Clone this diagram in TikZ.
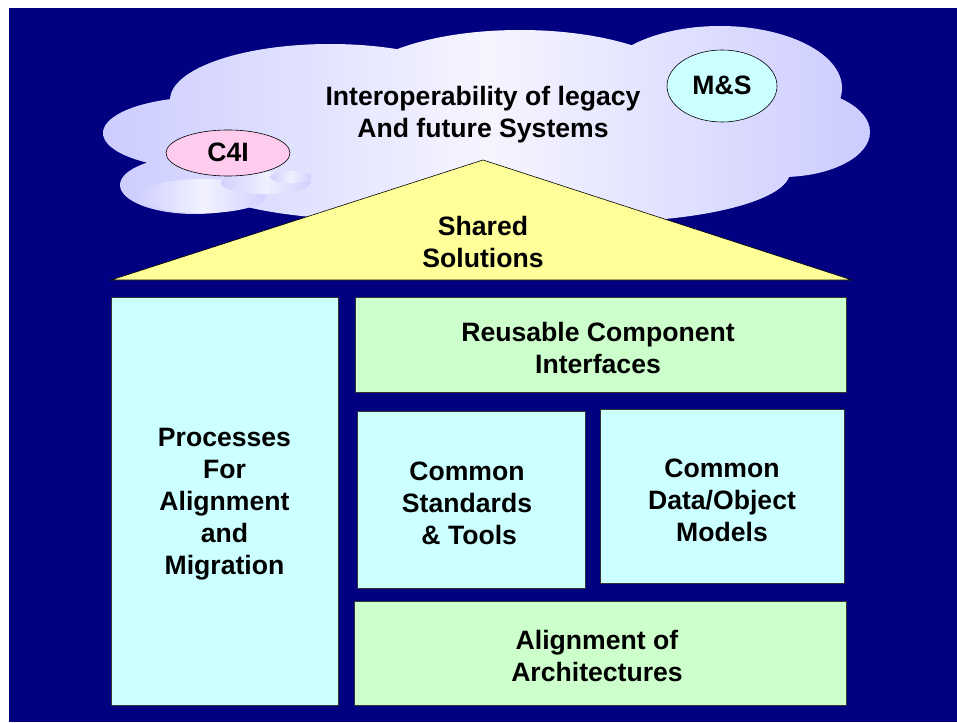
\documentclass[tikz,border=0pt]{standalone}
\usepackage{fontspec}
\setmainfont{Liberation Sans}
\usetikzlibrary{shapes.geometric}
\begin{document}
\begin{tikzpicture}[x=1pt,y=-1pt,
  lbl/.style={font=\bfseries\fontsize{26.6}{32}\selectfont, align=center, text=black},
  boxc/.style={draw=black!80, line width=0.6pt, fill=cyanbox},
  boxg/.style={draw=black!80, line width=0.6pt, fill=greenbox},
  oval/.style={draw=black, line width=0.6pt, ellipse}]
\definecolor{navy}{RGB}{0,0,128}
\definecolor{cyanbox}{RGB}{204,255,255}
\definecolor{greenbox}{RGB}{204,255,204}
\definecolor{yellowtri}{RGB}{255,255,153}
\definecolor{cloudc}{RGB}{204,204,255}
\definecolor{pinkov}{RGB}{255,204,238}
\definecolor{cyanov}{RGB}{204,255,255}
\useasboundingbox (0,0) rectangle (957,722);
\fill[white] (0,0) rectangle (957,722);
\fill[navy] (9,8) rectangle (957,722);
% cloud
\shade[left color=cloudc, right color=cloudc, middle color=cloudc!20!white]
  (330,100) ellipse [x radius=160, y radius=56]
  (520,92) ellipse [x radius=170, y radius=62]
  (720,88) ellipse [x radius=122, y radius=62]
  (782,132) ellipse [x radius=88, y radius=45]
  (205,133) ellipse [x radius=102, y radius=36]
  (195,185) ellipse [x radius=75, y radius=29]
  (600,172) ellipse [x radius=190, y radius=50]
  (380,180) ellipse [x radius=180, y radius=40];
\shade[left color=cloudc!90!white, right color=cloudc!90!white, middle color=cloudc!25!white]
  (203,196) ellipse [x radius=63, y radius=17];
\shade[left color=cloudc!90!white, right color=cloudc!90!white, middle color=cloudc!30!white]
  (266,183) ellipse [x radius=45, y radius=11];
\shade[left color=cloudc!90!white, right color=cloudc!90!white, middle color=cloudc!30!white]
  (291,177) ellipse [x radius=21, y radius=6];
\node[lbl] (cloudtxt) at (483,115) {Interoperability of legacy\\And future Systems};
\node[oval, fill=pinkov, minimum width=124, minimum height=46, inner sep=0] (c4i) at (228,153) {};
\node[lbl] at ([yshift=1]c4i.center) {C4I};
\node[oval, fill=cyanov, minimum width=110, minimum height=72, inner sep=0] (ms) at (722,86) {};
\node[lbl] at ([yshift=1]ms.center) {M\&S};
% triangle
\draw[fill=yellowtri, line width=0.6pt] (111,280) -- (483,160) -- (852,280) -- cycle;
\node[lbl] (shared) at (483,242) {Shared\\Solutions};
% boxes
\draw[boxc] (111,297) rectangle (338,705);
\node[lbl] (proc) at (224.5,504) {Processes\\For\\Alignment\\and\\Migration};
\draw[boxg] (355,297) rectangle (846,392);
\node[lbl] (reuse) at (598,348) {Reusable Component\\Interfaces};
\draw[boxc] (357,411) rectangle (585,588);
\node[lbl] (std) at (467,503) {Common\\Standards\\\,\& Tools};
\draw[boxc] (600,409) rectangle (844,583);
\node[lbl] (data) at (722,500) {Common\\Data/Object\\Models};
\draw[boxg] (354,601) rectangle (846,705);
\node[lbl] (align) at (597,656) {Alignment of\\Architectures};
\end{tikzpicture}
\end{document}
